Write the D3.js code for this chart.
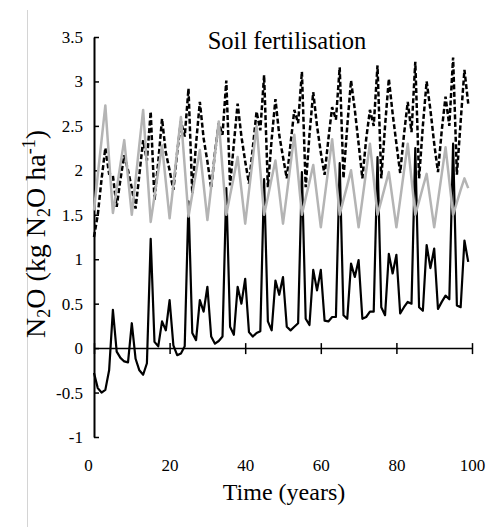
<!DOCTYPE html>
<html>
<head>
<meta charset="utf-8">
<script src="https://cdn.jsdelivr.net/npm/d3@7"></script>
<style>
  body { margin: 0; background: #fff; }
  text { font-family: "Liberation Serif", "Times New Roman", serif; fill: #000; }
</style>
</head>
<body>
<svg id="chart" width="488" height="527"></svg>
<script>
'use strict';

// --- data (one value per year) ---
var years = d3.range(0, 100);
var xTicks = [0, 20, 40, 60, 80, 100];
var yTicks = [-1, -0.5, 0, 0.5, 1, 1.5, 2, 2.5, 3, 3.5];

var solidSeries = [
  -0.28, -0.45, -0.5, -0.47, -0.25, 0.43, -0.04, -0.11, -0.15, -0.16,
  0.28, -0.12, -0.25, -0.3, -0.17, 1.23, 0.07, 0.02, 0.3, 0.2,
  0.54, 0.03, -0.08, -0.06, 0.02, 1.65, 0.17, 0.09, 0.54, 0.41,
  0.69, 0.13, 0.05, 0.08, 0.13, 1.8, 0.24, 0.15, 0.69, 0.5,
  0.78, 0.18, 0.13, 0.17, 0.19, 1.9, 0.3, 0.2, 0.76, 0.6,
  0.8, 0.24, 0.2, 0.24, 0.28, 1.98, 0.33, 0.26, 0.88, 0.65,
  0.88, 0.31, 0.3, 0.35, 0.35, 2.08, 0.37, 0.33, 0.95, 0.8,
  0.99, 0.33, 0.35, 0.41, 0.41, 2.15, 0.46, 0.37, 1.06, 0.84,
  1.05, 0.39, 0.46, 0.52, 0.5, 2.25, 0.46, 0.42, 1.16, 0.9,
  1.12, 0.44, 0.52, 0.59, 0.55, 2.3, 0.48, 0.46, 1.21, 0.97
];

var dashedSeries = [
  1.25, 1.5, 1.9, 2.25, 1.96, 1.94, 1.59, 1.9, 2.17, 2.0,
  1.8, 1.57, 1.95, 2.34, 2.11, 2.66, 1.66, 2.1, 2.58, 2.2,
  2.0, 1.78, 2.2, 2.55, 2.38, 2.92, 1.74, 2.3, 2.77, 2.36,
  2.1, 1.8, 2.2, 2.53, 2.4, 3.01, 1.83, 2.3, 2.75, 2.38,
  2.1, 1.85, 2.25, 2.66, 2.45, 3.07, 1.81, 2.35, 2.8, 2.4,
  2.15, 1.91, 2.3, 2.68, 2.53, 3.11, 1.81, 2.4, 2.88, 2.5,
  2.2, 1.95, 2.35, 2.71, 2.57, 3.16, 1.91, 2.5, 3.01, 2.68,
  2.3, 1.91, 2.35, 2.68, 2.5, 3.18, 1.91, 2.5, 3.03, 2.64,
  2.3, 1.97, 2.4, 2.77, 2.43, 3.22, 1.91, 2.5, 3.0, 2.68,
  2.3, 1.98, 2.45, 2.83, 2.5, 3.27, 1.95, 2.55, 3.13, 2.75
];

var greySeries = [
  1.55, 1.95, 2.34, 2.73, 2.12, 1.52, 1.79, 2.07, 2.34, 1.92,
  1.5, 1.89, 2.29, 2.68, 2.05, 1.42, 1.71, 1.99, 2.28, 1.87,
  1.46, 1.84, 2.22, 2.6, 2.04, 1.48, 1.73, 1.98, 2.23, 1.84,
  1.44, 1.81, 2.18, 2.55, 2.02, 1.5, 1.72, 1.93, 2.15, 1.78,
  1.4, 1.77, 2.13, 2.5, 2.0, 1.5, 1.7, 1.91, 2.11, 1.76,
  1.4, 1.73, 2.07, 2.4, 1.95, 1.5, 1.69, 1.87, 2.06, 1.71,
  1.36, 1.69, 2.02, 2.35, 1.93, 1.5, 1.67, 1.83, 2.0, 1.68,
  1.36, 1.67, 1.99, 2.3, 1.9, 1.5, 1.66, 1.82, 1.98, 1.67,
  1.36, 1.67, 1.99, 2.3, 1.9, 1.5, 1.65, 1.81, 1.96, 1.66,
  1.36, 1.66, 1.96, 2.26, 1.88, 1.5, 1.64, 1.78, 1.91, 1.8
];

// --- layout ---
var svg = d3.select('#chart');
var plotLeft = 94, plotRight = 472, plotTop = 37, plotBottom = 437;

var x = d3.scaleLinear().domain([0, 100]).range([plotLeft, plotRight]);
var y = d3.scaleLinear().domain([-1, 3.5]).range([plotBottom, plotTop]);

// faint frame edge on the left of the original image
svg.append('line')
  .attr('x1', 27.5).attr('x2', 27.5).attr('y1', 10).attr('y2', 527)
  .attr('stroke', '#d4d4d4').attr('stroke-width', 1);

// y axis, ticks pointing into the plot (plain hyphen for negatives, like Excel)
var yAxis = svg.append('g')
  .attr('transform', 'translate(' + plotLeft + ',0)')
  .call(d3.axisLeft(y).tickValues(yTicks).tickSizeInner(-5).tickSizeOuter(0).tickPadding(11)
    .tickFormat(function (d) { return String(d); }));
yAxis.select('.domain').attr('stroke-width', 2);
yAxis.selectAll('.tick line').attr('stroke-width', 1.5);
yAxis.selectAll('text').attr('font-size', '17px').attr('font-family', '"Liberation Serif", serif');

// x axis drawn along y = 0, ticks crossing the line
var xAxis = svg.append('g')
  .attr('transform', 'translate(0,' + y(0) + ')')
  .call(d3.axisBottom(x).tickValues(xTicks).tickSizeOuter(0).tickFormat(''));
xAxis.select('.domain').attr('stroke-width', 1.5);
xAxis.selectAll('.tick line').attr('y1', -5).attr('y2', 6).attr('stroke-width', 1.5);

// x tick labels below the plot
var xLabels = svg.append('g')
  .attr('transform', 'translate(0,' + plotBottom + ')')
  .call(d3.axisBottom(x).tickValues(xTicks).tickSize(0).tickPadding(22));
xLabels.select('.domain').remove();
xLabels.selectAll('text').attr('font-size', '17px').attr('font-family', '"Liberation Serif", serif');
xLabels.selectAll('.tick').filter(function (d) { return d === 0; })
  .select('text').attr('dx', -6);

// series
var line = function (values) {
  return d3.line()
    .x(function (d, i) { return x(years[i]); })
    .y(function (d) { return y(d); })(values);
};

svg.append('path').attr('d', line(solidSeries))
  .attr('fill', 'none').attr('stroke', '#000').attr('stroke-width', 2.2)
  .attr('stroke-linejoin', 'round');

svg.append('path').attr('d', line(dashedSeries))
  .attr('fill', 'none').attr('stroke', '#000').attr('stroke-width', 2.5)
  .attr('stroke-dasharray', '5,2.5');

svg.append('path').attr('d', line(greySeries))
  .attr('fill', 'none').attr('stroke', '#b4b4b4').attr('stroke-width', 2.5)
  .attr('stroke-linejoin', 'round');

// titles
svg.append('text')
  .attr('x', 287).attr('y', 49)
  .attr('text-anchor', 'middle')
  .attr('font-size', '24.5px')
  .text('Soil fertilisation');

svg.append('text')
  .attr('x', 284).attr('y', 500)
  .attr('text-anchor', 'middle')
  .attr('font-size', '24px')
  .text('Time (years)');

var yTitle = svg.append('text')
  .attr('transform', 'translate(45,' + 234 + ') rotate(-90)')
  .attr('text-anchor', 'middle')
  .attr('font-size', '28px');
yTitle.append('tspan').text('N');
yTitle.append('tspan').attr('font-size', '18px').attr('dy', 5).text('2');
yTitle.append('tspan').attr('dy', -5).text('O (kg N');
yTitle.append('tspan').attr('font-size', '18px').attr('dy', 5).text('2');
yTitle.append('tspan').attr('dy', -5).text('O ha');
yTitle.append('tspan').attr('font-size', '18px').attr('dy', -10).text('-1');
yTitle.append('tspan').attr('dy', 10).text(')');
</script>
</body>
</html>
